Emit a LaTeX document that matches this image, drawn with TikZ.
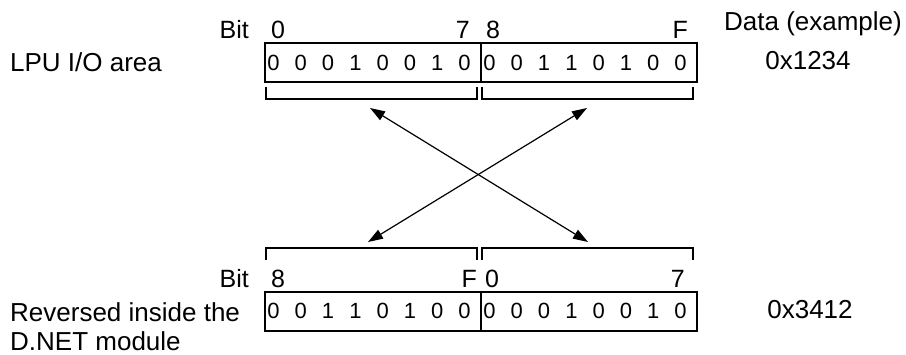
\documentclass[tikz,border=0pt]{standalone}
\usepackage{fontspec}
\setmainfont{Liberation Sans}
\usetikzlibrary{arrows.meta}
\begin{document}
\begin{tikzpicture}[x=1pt,y=-1pt,
  half/.style={draw,line width=2pt,minimum width=216pt,inner sep=0pt,anchor=north west},
  dig/.style={font=\fontsize{22}{25}\selectfont,inner sep=0pt,anchor=base},
  lbl/.style={font=\fontsize{25}{28}\selectfont,inner sep=0pt},
  big/.style={font=\fontsize{26}{30}\selectfont,inner sep=0pt},
  brk/.style={line width=2pt},
  arr/.style={line width=1.2pt,{Triangle[length=15pt,width=10pt]}-{Triangle[length=15pt,width=10pt]}}]
\useasboundingbox (0,0) rectangle (906,354);
% top register
\node[half,minimum height=38.5pt] (tl) at (263.5,42) {};
\node[half,minimum height=38.5pt] (tr) at (479.5,42) {};
\foreach \d [count=\i from 0] in {0,0,0,1,0,0,1,0}
  \node[dig] (tld\i) at (273.5+27.3*\i,70) {\d};
\foreach \d [count=\i from 0] in {0,0,1,1,0,1,0,0}
  \node[dig] (trd\i) at (489.5+27.3*\i,70) {\d};
\node[lbl,anchor=base east] (tbit) at (249,38) {Bit};
\node[lbl,anchor=base west] (t0) at (271,38) {0};
\node[lbl,anchor=base east] (t7) at (470,38) {7};
\node[lbl,anchor=base west] (t8) at (486,38) {8};
\node[lbl,anchor=base east] (tF) at (688,38) {F};
\node[big,anchor=base west] (lpu) at (10,71) {LPU I/O area};
\node[big,anchor=base] (data) at (813,30) {Data (example)};
\node[big,anchor=base] (v1) at (808,69) {0x1234};
% top brackets
\draw[brk] (265.7,87) -- (265.7,99) -- (476.7,99) -- (476.7,87);
\draw[brk] (482,87) -- (482,99) -- (692.5,99) -- (692.5,87);
% bottom brackets
\draw[brk] (265.7,260) -- (265.7,248) -- (476.7,248) -- (476.7,260);
\draw[brk] (482,260) -- (482,248) -- (692.5,248) -- (692.5,260);
% bottom register
\node[half,minimum height=38.5pt] (bl) at (263.5,291) {};
\node[half,minimum height=38.5pt] (br) at (479.5,291) {};
\foreach \d [count=\i from 0] in {0,0,1,1,0,1,0,0}
  \node[dig] (bld\i) at (273.5+27.3*\i,318) {\d};
\foreach \d [count=\i from 0] in {0,0,0,1,0,0,1,0}
  \node[dig] (brd\i) at (489.5+27.3*\i,318) {\d};
\node[lbl,anchor=base east] (bbit) at (249,287) {Bit};
\node[lbl,anchor=base west] (b8) at (271,287) {8};
\node[lbl,anchor=base east] (bF) at (477,287) {F};
\node[lbl,anchor=base west] (b0) at (485,287) {0};
\node[lbl,anchor=base east] (b7) at (685,287) {7};
\node[big,anchor=base west] (rev1) at (10,321) {Reversed inside the};
\node[big,anchor=base west] (rev2) at (10,350) {D.NET module};
\node[big,anchor=base] (v2) at (810,318) {0x3412};
% arrows
\coordinate (a1) at (370,108);
\coordinate (a2) at (588,242);
\coordinate (a3) at (587,108);
\coordinate (a4) at (368,242);
\draw[arr] (a1) -- (a2);
\draw[arr] (a3) -- (a4);
\end{tikzpicture}
\end{document}
